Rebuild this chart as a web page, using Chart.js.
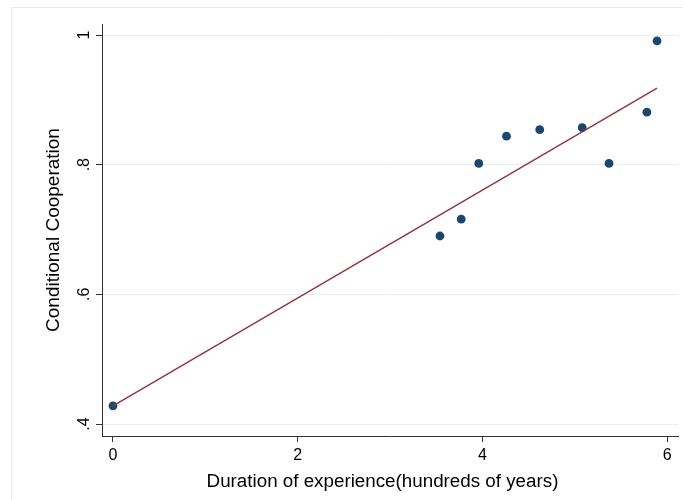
<!DOCTYPE html>
<html>
<head>
<meta charset="utf-8">
<script src="https://cdn.jsdelivr.net/npm/chart.js@4.4.0/dist/chart.umd.min.js"></script>
<style>
  html, body { margin: 0; padding: 0; background: #fff; }
  #wrap { width: 683px; height: 500px; position: relative; }
</style>
</head>
<body>
<div id="wrap"><canvas id="scatterChart"></canvas></div>
<script>
// Data
var duration = [0, 3.54, 3.77, 3.96, 4.26, 4.62, 5.08, 5.37, 5.78, 5.89];
var cooperation = [0.428, 0.690, 0.716, 0.802, 0.844, 0.854, 0.857, 0.802, 0.881, 0.991];
var fitX = [0, 5.89];
var fitY = [0.428, 0.918];
var xTicks = [0, 2, 4, 6];
var yTicks = [0.4, 0.6, 0.8, 1];
var yTickLabels = ['.4', '.6', '.8', '1'];
var xTitle = 'Duration of experience(hundreds of years)';
var yTitle = 'Conditional Cooperation';

Chart.defaults.font.family = "'Liberation Sans', Arial, sans-serif";
Chart.defaults.color = '#000';

var axisColor = '#333';

// Build point lists from the arrays
var scatterPoints = duration.map(function (x, i) { return { x: x, y: cooperation[i] }; });
var fitPoints = fitX.map(function (x, i) { return { x: x, y: fitY[i] }; });

// Outer frame, x title and rotated y tick labels (Stata style)
var stataLook = {
  id: 'stataLook',
  beforeDraw: function (chart) {
    var c = chart.ctx;
    c.save();
    c.fillStyle = '#fff';
    c.fillRect(0, 0, chart.width, chart.height);
    c.strokeStyle = '#e8ebee';
    c.lineWidth = 1;
    c.strokeRect(11.5, 7.5, chart.width + 20, chart.height + 20);
    c.restore();
  },
  afterDraw: function (chart) {
    var c = chart.ctx;
    var y = chart.scales.y;
    c.save();
    c.font = '16px ' + Chart.defaults.font.family;
    c.fillStyle = '#000';
    c.textAlign = 'center';
    c.textBaseline = 'alphabetic';
    yTicks.forEach(function (v, i) {
      var py = y.getPixelForValue(v);
      c.save();
      c.translate(88.5, py);
      c.rotate(-Math.PI / 2);
      c.fillText(yTickLabels[i], 0, 0);
      c.restore();
    });
    // x title sits a bit left of the plot centre in the original
    c.font = '18.8px ' + Chart.defaults.font.family;
    c.fillText(xTitle, 382.5, 486.5);
    c.restore();
  }
};

var ctx = document.getElementById('scatterChart').getContext('2d');
var chart = new Chart(ctx, {
  type: 'scatter',
  data: {
    datasets: [{
      label: yTitle,
      data: scatterPoints,
      backgroundColor: '#1a476f',
      borderColor: '#1a476f',
      pointRadius: 4.4,
      pointBorderWidth: 0,
      order: 2
    }, {
      type: 'line',
      label: 'Fitted values',
      data: fitPoints,
      borderColor: '#90353b',
      borderWidth: 1.4,
      pointRadius: 0,
      fill: false,
      order: 1
    }]
  },
  options: {
    responsive: true,
    maintainAspectRatio: false,
    animation: false,
    layout: { padding: { top: 24, right: 5, left: 0, bottom: 0 } },
    plugins: {
      legend: { display: false },
      tooltip: { enabled: false }
    },
    scales: {
      x: {
        type: 'linear',
        min: -0.119,
        max: 6.117,
        afterBuildTicks: function (scale) {
          scale.ticks = xTicks.map(function (v) { return { value: v }; });
        },
        afterFit: function (scale) { scale.height = 64; },
        ticks: {
          font: { size: 16 },
          color: '#000',
          padding: 4,
          maxRotation: 0,
          callback: function (v) { return String(v); }
        },
        grid: {
          display: true,
          drawOnChartArea: false,
          drawTicks: true,
          tickLength: 6,
          tickColor: axisColor
        },
        border: { display: true, color: axisColor, width: 1 },
        title: { display: false }
      },
      y: {
        min: 0.3815,
        max: 1.017,
        afterBuildTicks: function (scale) {
          scale.ticks = yTicks.map(function (v) { return { value: v }; });
        },
        afterFit: function (scale) { scale.width = 102; },
        ticks: { display: false },
        grid: {
          color: '#e7eef1',
          lineWidth: 1,
          drawTicks: true,
          tickLength: 6,
          tickColor: axisColor
        },
        border: { display: true, color: axisColor, width: 1 },
        title: {
          display: true,
          text: yTitle,
          font: { size: 19 },
          color: '#000',
          padding: { top: 42, bottom: 0 }
        }
      }
    }
  },
  plugins: [stataLook]
});
</script>
</body>
</html>
